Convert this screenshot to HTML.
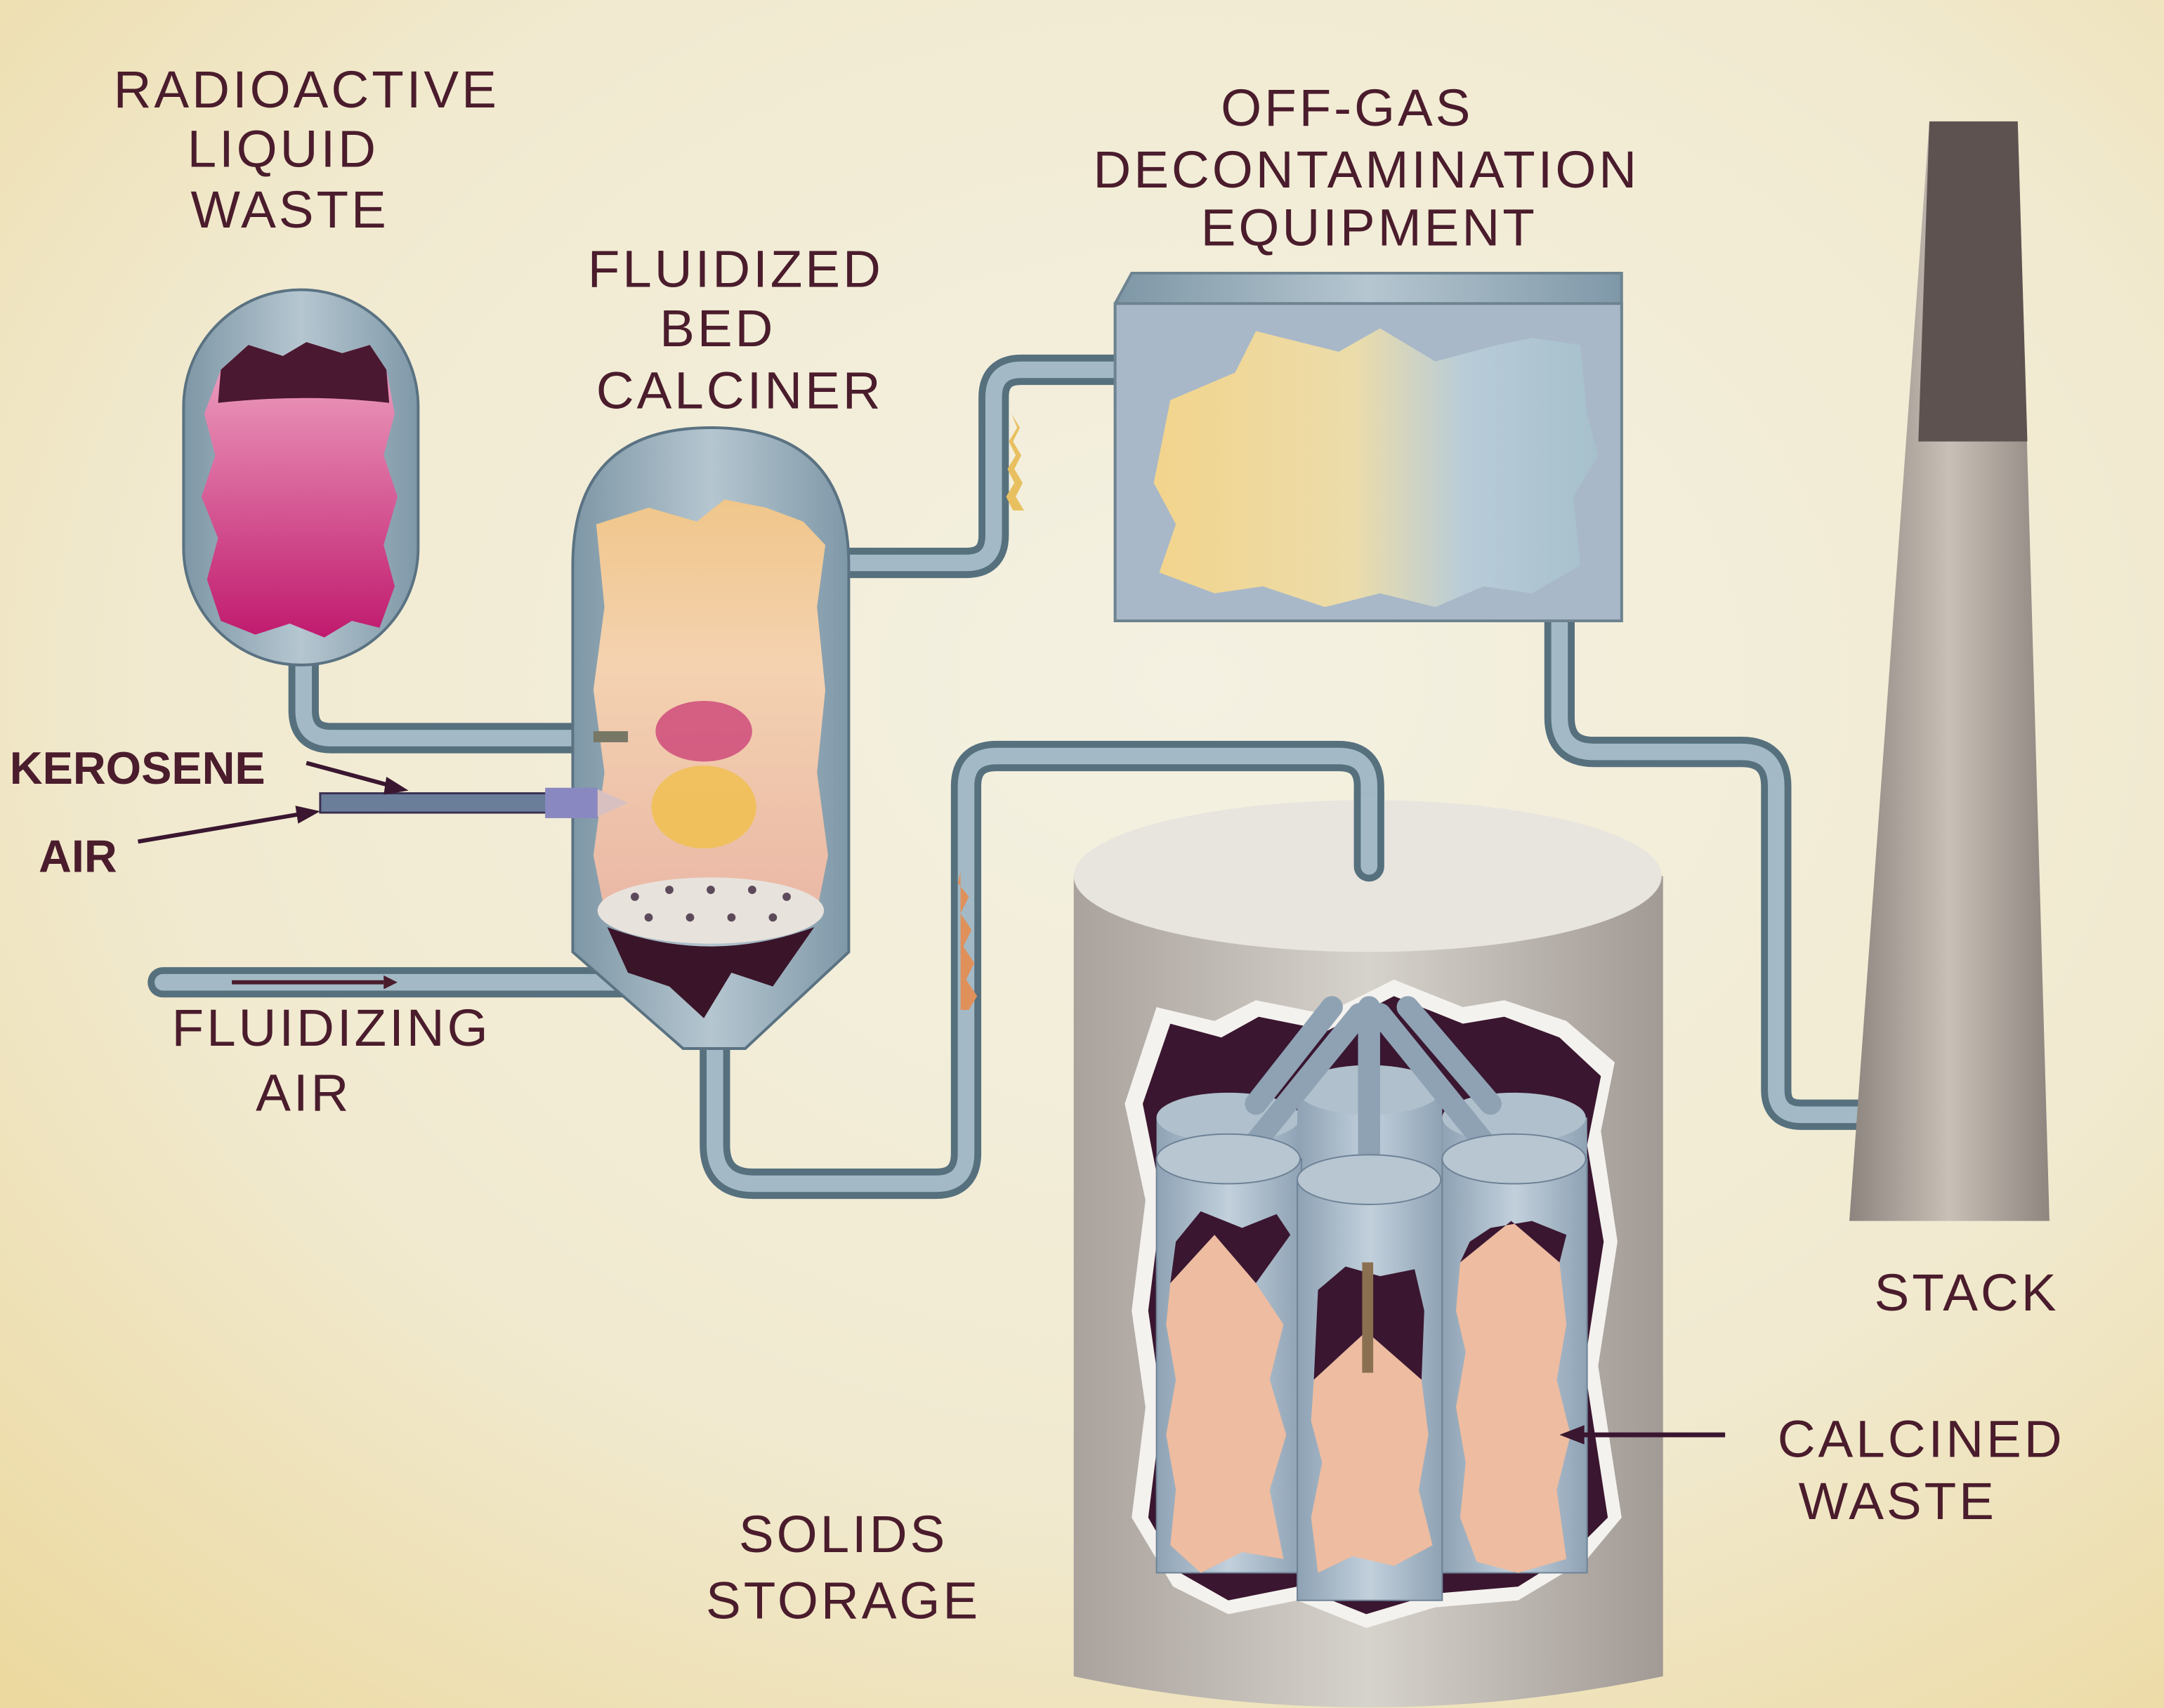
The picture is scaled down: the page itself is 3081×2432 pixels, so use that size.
<!DOCTYPE html>
<html><head><meta charset="utf-8"><style>
html,body{margin:0;padding:0;width:3081px;height:2432px;overflow:hidden;}
svg{display:block}
text{font-family:"Liberation Sans",sans-serif;fill:#4a1c2c;}
</style></head><body>
<svg width="3081" height="2432" viewBox="0 0 1568 1238" preserveAspectRatio="none" xmlns="http://www.w3.org/2000/svg">
<defs>
<radialGradient id="bg" cx="0.55" cy="0.4" r="0.8">
<stop offset="0" stop-color="#f4f1e2"/><stop offset="0.6" stop-color="#f1ead0"/><stop offset="1" stop-color="#ecd9a0"/></radialGradient>
<linearGradient id="metal" x1="0" x2="1"><stop offset="0" stop-color="#7e97a6"/><stop offset="0.5" stop-color="#b5c6d0"/><stop offset="1" stop-color="#7f98a8"/></linearGradient>
<linearGradient id="mag" x1="0" y1="0" x2="0" y2="1"><stop offset="0" stop-color="#f0a8c4"/><stop offset="1" stop-color="#c01a6e"/></linearGradient>
<linearGradient id="cal" x1="0" y1="0" x2="0" y2="1"><stop offset="0" stop-color="#f0c68a"/><stop offset="0.4" stop-color="#f4d2b0"/><stop offset="1" stop-color="#eab8a6"/></linearGradient>
<linearGradient id="gas" x1="0" x2="1"><stop offset="0" stop-color="#f2d48c"/><stop offset="0.45" stop-color="#ecdcaa"/><stop offset="0.7" stop-color="#b8ccd8"/><stop offset="1" stop-color="#a6c0cc"/></linearGradient>
<linearGradient id="cyl" x1="0" x2="1"><stop offset="0" stop-color="#aaa29c"/><stop offset="0.5" stop-color="#d6d2cc"/><stop offset="1" stop-color="#a29a94"/></linearGradient>
<linearGradient id="stk" x1="0" x2="1"><stop offset="0" stop-color="#8c847e"/><stop offset="0.5" stop-color="#c8bfb6"/><stop offset="1" stop-color="#8e867f"/></linearGradient>
<linearGradient id="can" x1="0" x2="1"><stop offset="0" stop-color="#8ea2b4"/><stop offset="0.5" stop-color="#c2d0dc"/><stop offset="1" stop-color="#8ea2b4"/></linearGradient>
</defs>
<rect width="1568" height="1238" fill="url(#bg)"/>

<g fill="none" stroke-linecap="round" stroke-linejoin="round">
<g stroke="#56707e" stroke-width="22">
<path d="M220 480 V515 Q220 535 240 535 H420"/>
<path d="M610 408 H700 Q720 408 720 388 V288 Q720 268 740 268 H810"/>
<path d="M518 760 V830 Q518 858 546 858 H678 Q700 858 700 836 V570 Q700 548 722 548 H970 Q992 548 992 570 V600"/>
<path d="M1130 448 V520 Q1130 545 1155 545 H1262 Q1287 545 1287 570 V790 Q1287 808 1305 808 H1372"/>
<path d="M118 712 H455"/>
</g>
<g stroke="#a3bac6" stroke-width="12">
<path d="M220 480 V515 Q220 535 240 535 H420"/>
<path d="M610 408 H700 Q720 408 720 388 V288 Q720 268 740 268 H810"/>
<path d="M518 760 V830 Q518 858 546 858 H678 Q700 858 700 836 V570 Q700 548 722 548 H970 Q992 548 992 570 V600"/>
<path d="M1130 448 V520 Q1130 545 1155 545 H1262 Q1287 545 1287 570 V790 Q1287 808 1305 808 H1372"/>
<path d="M118 712 H455"/>
</g>
</g>
<path d="M733 300 l6 10 -5 10 6 10 -5 10 6 10 -5 10 6 10 h-8 l-5-10 6-10 -5-10 6-10 -5-10 6-10z" fill="#e8c060"/>
<path d="M694 640 l8 10 -6 12 8 12 -6 12 8 12 -6 12 8 12 -6 10 h-6 v-100z" fill="#e0905a"/>
<path d="M168 712 H278" stroke="#4a1c2c" stroke-width="3"/><path d="M278 707 L288 712 L278 717z" fill="#4a1c2c"/>

<rect x="133" y="210" width="170" height="272" rx="85" fill="url(#metal)" stroke="#5a7282" stroke-width="2"/>
<path d="M160 268 L180 250 205 258 222 248 248 256 268 250 280 268 L286 300 278 330 288 360 278 395 286 425 275 455 255 450 235 462 210 452 185 460 160 450 150 420 158 390 146 360 156 330 148 300z" fill="url(#mag)"/>
<path d="M160 268 L180 250 205 258 222 248 248 256 268 250 280 268 L282 292 Q222 285 158 292z" fill="#4a1830"/>

<path d="M415 410 Q415 310 515 310 Q615 310 615 410 V690 L540 760 H495 L415 690z" fill="url(#metal)" stroke="#5a7282" stroke-width="2"/>
<path d="M432 380 L470 368 505 378 525 362 555 368 582 378 598 395 592 440 598 500 592 560 600 620 592 660 L438 660 430 620 438 560 430 500 438 440z" fill="url(#cal)"/>
<ellipse cx="515" cy="660" rx="82" ry="24" fill="#e8e2dc"/>
<path d="M440 672 Q515 700 590 672 L560 715 530 705 510 738 485 715 455 705z" fill="#3a1428"/>
<g fill="#5c4a5a"><circle cx="460" cy="650" r="3"/><circle cx="485" cy="645" r="3"/><circle cx="515" cy="645" r="3"/><circle cx="545" cy="645" r="3"/><circle cx="570" cy="650" r="3"/><circle cx="470" cy="665" r="3"/><circle cx="500" cy="665" r="3"/><circle cx="530" cy="665" r="3"/><circle cx="560" cy="665" r="3"/></g>
<ellipse cx="510" cy="530" rx="35" ry="22" fill="#c83070" opacity="0.7"/>
<ellipse cx="510" cy="585" rx="38" ry="30" fill="#f0c050" opacity="0.85"/>
<rect x="232" y="575" width="200" height="14" fill="#6a7e9a" stroke="#3a3050" stroke-width="1.5"/>
<rect x="395" y="571" width="38" height="22" fill="#8a88c0"/>
<path d="M433 572 L455 582 L433 592z" fill="#d8c0c0"/>
<rect x="430" y="530" width="25" height="8" fill="#776"/>

<path d="M808 220 L820 198 H1175 V450 H808z" fill="url(#metal)" stroke="#6e8390" stroke-width="2"/>
<rect x="808" y="220" width="367" height="230" fill="#a8b8c8" stroke="#6e8390" stroke-width="2"/>
<path d="M848 290 L895 270 910 240 970 255 1000 238 1040 262 1085 250 1110 245 1145 250 1150 300 1158 330 1140 360 1145 410 1110 430 1075 425 1040 440 1000 430 960 440 915 425 880 430 840 415 852 380 836 350z" fill="url(#gas)"/>

<path d="M1398 88 H1462 L1485 885 H1340z" fill="url(#stk)"/>
<path d="M1398 88 H1462 L1469 320 H1390z" fill="#5e5250"/>

<path d="M778 635 V1215 Q991 1260 1205 1215 V635z" fill="url(#cyl)"/>
<ellipse cx="991" cy="635" rx="213" ry="55" fill="#e8e4de"/>
<rect x="981" y="575" width="22" height="53" fill="#56707e"/><circle cx="992" cy="628" r="11" fill="#56707e"/>
<rect x="986" y="575" width="12" height="53" fill="#a3bac6"/><circle cx="992" cy="628" r="6" fill="#a3bac6"/>
<path d="M838 730 L880 740 910 725 960 735 1010 710 1060 730 1090 725 1135 740 1170 770 1160 820 1172 900 1158 990 1175 1100 1150 1130 1100 1160 1040 1165 990 1180 940 1160 890 1170 850 1150 820 1100 830 1020 820 950 830 870 815 800z" fill="#f4f2ee"/>
<path d="M848 742 L885 752 912 737 962 747 1010 722 1060 742 1090 737 1130 752 1160 780 1150 830 1162 900 1148 990 1165 1100 1140 1125 1100 1150 1040 1155 990 1170 940 1150 890 1160 855 1140 832 1100 842 1020 832 950 842 870 828 800z" fill="#3a1630"/>
<g>
<rect x="838" y="810" width="105" height="180" fill="url(#can)"/><ellipse cx="890" cy="810" rx="52" ry="18" fill="#b0c0cc"/>
<rect x="940" y="790" width="105" height="100" fill="url(#can)"/><ellipse cx="992" cy="790" rx="52" ry="18" fill="#b0c0cc"/>
<rect x="1045" y="810" width="105" height="180" fill="url(#can)"/><ellipse cx="1097" cy="810" rx="52" ry="18" fill="#b0c0cc"/>
<g stroke="#8ea2b4" stroke-width="16" stroke-linecap="round"><path d="M900 840 L985 735"/><path d="M1085 840 L1000 735"/><path d="M910 800 L965 730"/><path d="M1080 800 L1020 730"/><path d="M992 855 V730"/></g>
<rect x="838" y="840" width="105" height="300" fill="url(#can)" stroke="#6e8296" stroke-width="1"/><ellipse cx="890" cy="840" rx="52" ry="18" fill="#b8c6d2" stroke="#6e8296"/>
<rect x="940" y="855" width="105" height="305" fill="url(#can)" stroke="#6e8296" stroke-width="1"/><ellipse cx="992" cy="855" rx="52" ry="18" fill="#b8c6d2" stroke="#6e8296"/>
<rect x="1045" y="840" width="105" height="300" fill="url(#can)" stroke="#6e8296" stroke-width="1"/><ellipse cx="1097" cy="840" rx="52" ry="18" fill="#b8c6d2" stroke="#6e8296"/>
</g>
<g fill="#eebca0">
<path d="M848 930 L880 895 910 930 L930 960 920 1000 932 1040 920 1080 930 1130 900 1125 870 1140 848 1120 852 1080 845 1040 852 1000 845 960z"/>
<path d="M952 1000 L990 965 1030 1000 L1035 1040 1028 1080 1038 1120 1010 1135 980 1128 955 1140 950 1100 958 1060 950 1030z"/>
<path d="M1058 915 L1095 885 1130 915 L1135 960 1128 1000 1138 1040 1128 1080 1135 1130 1100 1140 1070 1132 1058 1100 1062 1060 1055 1020 1062 980 1055 950z"/>
</g>
<path d="M848 930 L880 895 910 930 L935 895 925 880 900 890 870 878 852 900z" fill="#3a1630"/>
<path d="M952 1000 L990 965 1030 1000 L1032 950 1025 920 1000 925 975 918 955 935z" fill="#3a1630"/>
<path d="M1058 915 L1095 885 1130 915 L1135 895 1110 885 1080 890 1065 900z" fill="#3a1630"/>
<rect x="987" y="915" width="8" height="80" fill="#8a7050"/>
<path d="M1250 1040 H1145" stroke="#3a1630" stroke-width="3.5"/><path d="M1148 1033 L1130 1040 L1148 1047z" fill="#3a1630"/>

<path d="M222 553 L285 570" stroke="#3a1630" stroke-width="3"/><path d="M280 563 L296 573 L278 576z" fill="#3a1630"/>
<path d="M100 610 L218 590" stroke="#3a1630" stroke-width="3"/><path d="M214 584 L232 588 L216 597z" fill="#3a1630"/>

<g font-size="38" text-anchor="middle" letter-spacing="2">
<text x="222" y="78">RADIOACTIVE</text><text x="205" y="121">LIQUID</text><text x="210" y="165">WASTE</text>
<text x="533" y="208">FLUIDIZED</text><text x="520" y="251">BED</text><text x="536" y="296">CALCINER</text>
<text x="976" y="91">OFF-GAS</text><text x="990" y="136">DECONTAMINATION</text><text x="992" y="178">EQUIPMENT</text>
<text x="240" y="758">FLUIDIZING</text><text x="220" y="805">AIR</text>
<text x="1425" y="950">STACK</text>
<text x="1392" y="1056">CALCINED</text><text x="1375" y="1101">WASTE</text>
<text x="611" y="1125">SOLIDS</text><text x="611" y="1173">STORAGE</text>
</g>
<g font-size="33" font-weight="bold">
<text x="7" y="568">KEROSENE</text><text x="28" y="632">AIR</text>
</g>
</svg>
</body></html>
